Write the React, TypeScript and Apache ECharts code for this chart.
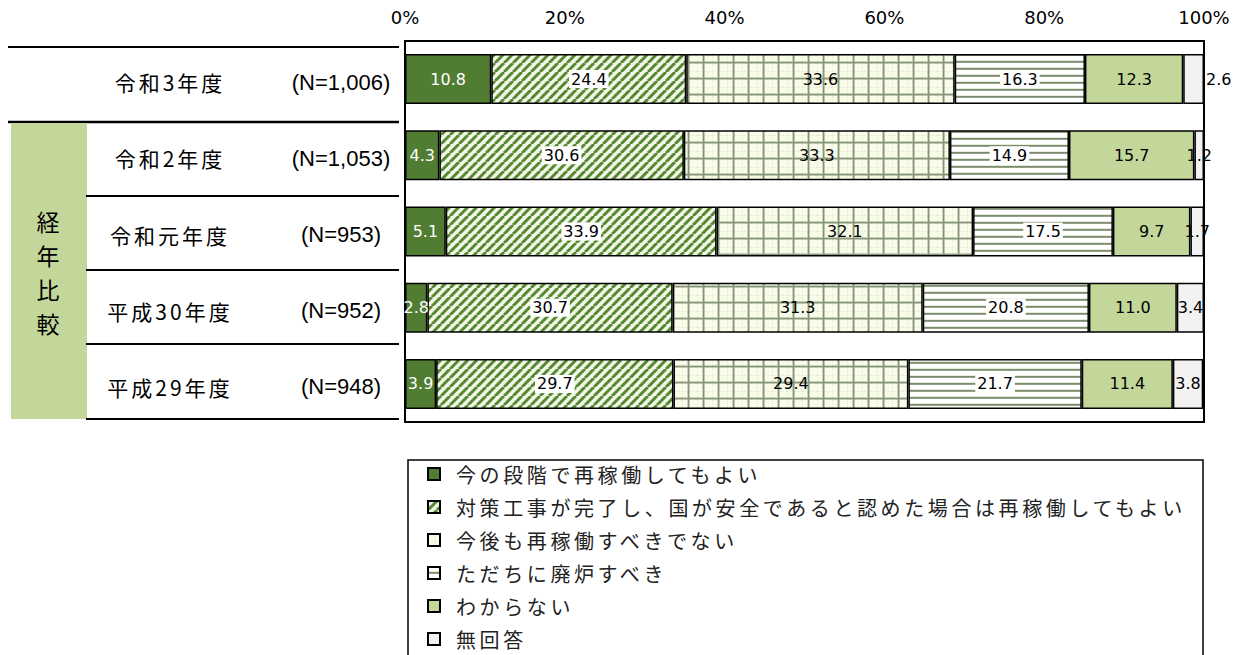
import React, { useEffect, useRef } from "react";
import * as echarts from "echarts";

const categories = ["令和3年度", "令和2年度", "令和元年度", "平成30年度", "平成29年度"];
const nLabels = ["(N=1,006)", "(N=1,053)", "(N=953)", "(N=952)", "(N=948)"];
const seriesNames = [
  "今の段階で再稼働してもよい",
  "対策工事が完了し、国が安全であると認めた場合は再稼働してもよい",
  "今後も再稼働すべきでない",
  "ただちに廃炉すべき",
  "わからない",
  "無回答",
];
const s1 = [10.8, 4.3, 5.1, 2.8, 3.9];
const s2 = [24.4, 30.6, 33.9, 30.7, 29.7];
const s3 = [33.6, 33.3, 32.1, 31.3, 29.4];
const s4 = [16.3, 14.9, 17.5, 20.8, 21.7];
const s5 = [12.3, 15.7, 9.7, 11.0, 11.4];
const s6 = [2.6, 1.2, 1.7, 3.4, 3.8];
const xTicks = { min: 0, max: 100, interval: 20 };
const groupLabel = "経\n年\n比\n較";

function makeCanvas(w: number, h: number, draw: (c: CanvasRenderingContext2D) => void) {
  const cv = document.createElement("canvas");
  cv.width = w;
  cv.height = h;
  const ctx = cv.getContext("2d")!;
  draw(ctx);
  return { image: cv, repeat: "repeat", imageWidth: w, imageHeight: h } as any;
}

function diagPattern() {
  return makeCanvas(9, 9, (c) => {
    c.fillStyle = "#f1f7e6";
    c.fillRect(0, 0, 9, 9);
    c.strokeStyle = "#568731";
    c.lineWidth = 3;
    for (const o of [-9, 0, 9]) {
      c.beginPath();
      c.moveTo(o, 9);
      c.lineTo(o + 9, 0);
      c.stroke();
    }
  });
}

function gridPattern() {
  return makeCanvas(15, 16, (c) => {
    c.fillStyle = "#fafcea";
    c.fillRect(0, 0, 15, 16);
    c.fillStyle = "#e2e8d2";
    for (let x = 0; x < 15; x += 3) c.fillRect(x, 7, 1.5, 1);
    for (let y = 0; y < 16; y += 3) c.fillRect(7, y, 1, 1.5);
    c.fillStyle = "#c9d1ba";
    c.fillRect(12, 0, 1, 16);
    c.fillRect(0, 13, 15, 1);
    c.fillStyle = "#87957a";
    c.fillRect(13, 0, 1.5, 16);
    c.fillRect(0, 14, 15, 1.5);
  });
}

function hPattern() {
  return makeCanvas(4, 7, (c) => {
    c.fillStyle = "#ffffff";
    c.fillRect(0, 0, 4, 7);
    c.fillStyle = "#e6ecdc";
    c.fillRect(0, 4, 4, 1);
    c.fillStyle = "#7c8b6d";
    c.fillRect(0, 5, 4, 1.8);
  });
}

export default function App() {
  const ref = useRef<HTMLDivElement>(null);
  useEffect(() => {
    document.body.style.margin = "0";
    const el = ref.current!;
    const chart = echarts.init(el, null, { renderer: "svg" });
    const colors: any[] = [
      "#507d31",
      diagPattern(),
      gridPattern(),
      hPattern(),
      "#c4d79b",
      "#f2f2f2",
    ];
    const data = [s1, s2, s3, s4, s5, s6];
    const labelBg = [null, "#ffffff", null, "#ffffff", null, null];
    const series = data.map((arr, k) => ({
      name: seriesNames[k],
      type: "bar",
      stack: "total",
      barWidth: 50,
      emphasis: { disabled: true },
      itemStyle: { color: colors[k], borderColor: "#000", borderWidth: 1.5 },
      label: {
        show: true,
        position: "inside",
        formatter: (p: any) => Number(p.value).toFixed(1),
        fontSize: 16,
        fontFamily: "DejaVu Sans",
        color: k === 0 ? "#ffffff" : "#000000",
        backgroundColor: labelBg[k] || "transparent",
        padding: labelBg[k] ? [1, 2] : 0,
      },
      data: arr.map((v, i) =>
        k === 5 && i === 0 ? { value: v, label: { position: "right", distance: 2 } } : v
      ),
    }));
    const option: any = {
      animation: false,
      grid: {
        left: 405,
        top: 41,
        width: 799,
        height: 381,
        show: true,
        borderColor: "#000",
        borderWidth: 2,
      },
      xAxis: {
        type: "value",
        position: "top",
        ...xTicks,
        axisLabel: {
          formatter: "{value}%",
          fontSize: 18,
          fontFamily: "DejaVu Sans",
          color: "#000",
          margin: 15,
        },
        splitLine: { show: false },
        axisLine: { show: false },
        axisTick: { show: false },
      },
      yAxis: {
        type: "category",
        inverse: true,
        data: categories,
        axisLine: { show: false },
        axisTick: { show: false },
        axisLabel: {
          margin: 8,
          padding: [6, 0, 0, 0],
          formatter: (v: string, i: number) => `{a|${v}}{b|${nLabels[i]}}`,
          rich: {
            a: { width: 230, align: "center", fontSize: 21, fontFamily: "Noto Sans CJK JP", color: "#000" },
            b: { width: 112, align: "left", fontSize: 22, fontFamily: "Liberation Sans", color: "#000" },
          },
        },
      },
      legend: {
        orient: "vertical",
        left: 427,
        top: 464,
        itemWidth: 12,
        itemHeight: 12,
        itemGap: 13,
        icon: "rect",
        selectedMode: false,
        padding: 0,
        data: seriesNames,
        itemStyle: { borderColor: "#000", borderWidth: 2 },
        textStyle: {
          fontSize: 20,
          lineHeight: 20,
          fontFamily: "Noto Sans CJK JP",
          color: "#222",
          padding: [0, 0, 0, 11],
        },
      },
      graphic: [
        { type: "line", shape: { x1: 8, y1: 47, x2: 399, y2: 47 }, style: { stroke: "#000", lineWidth: 2 } },
        { type: "line", shape: { x1: 8, y1: 122, x2: 399, y2: 122 }, style: { stroke: "#000", lineWidth: 2.5 } },
        { type: "rect", shape: { x: 11, y: 123, width: 76, height: 296 }, style: { fill: "#c4d79b" } },
        { type: "line", shape: { x1: 86, y1: 196, x2: 399, y2: 196 }, style: { stroke: "#000", lineWidth: 2 } },
        { type: "line", shape: { x1: 86, y1: 270, x2: 399, y2: 270 }, style: { stroke: "#000", lineWidth: 2 } },
        { type: "line", shape: { x1: 86, y1: 344, x2: 399, y2: 344 }, style: { stroke: "#000", lineWidth: 2 } },
        { type: "line", shape: { x1: 86, y1: 419, x2: 399, y2: 419 }, style: { stroke: "#000", lineWidth: 2 } },
        {
          type: "text",
          x: 48,
          y: 272,
          style: {
            text: groupLabel,
            font: "23px 'Noto Sans CJK JP'",
            lineHeight: 34,
            fill: "#000",
            align: "center",
            verticalAlign: "middle",
          },
        },
        {
          type: "rect",
          shape: { x: 408, y: 460, width: 795, height: 230 },
          style: { fill: "none", stroke: "#000", lineWidth: 1.5 },
          z: -1,
        },
      ],
      series,
    };
    const applySpacing = () => {
      el.querySelectorAll("text").forEach((t) => {
        const s = t.textContent || "";
        if (seriesNames.includes(s)) t.setAttribute("letter-spacing", "3.6");
        else if (categories.includes(s)) t.setAttribute("letter-spacing", "3");
      });
    };
    chart.on("finished", applySpacing);
    chart.setOption(option);
    applySpacing();
    return () => chart.dispose();
  }, []);
  return <div ref={ref} style={{ width: 1239, height: 655 }} />;
}
